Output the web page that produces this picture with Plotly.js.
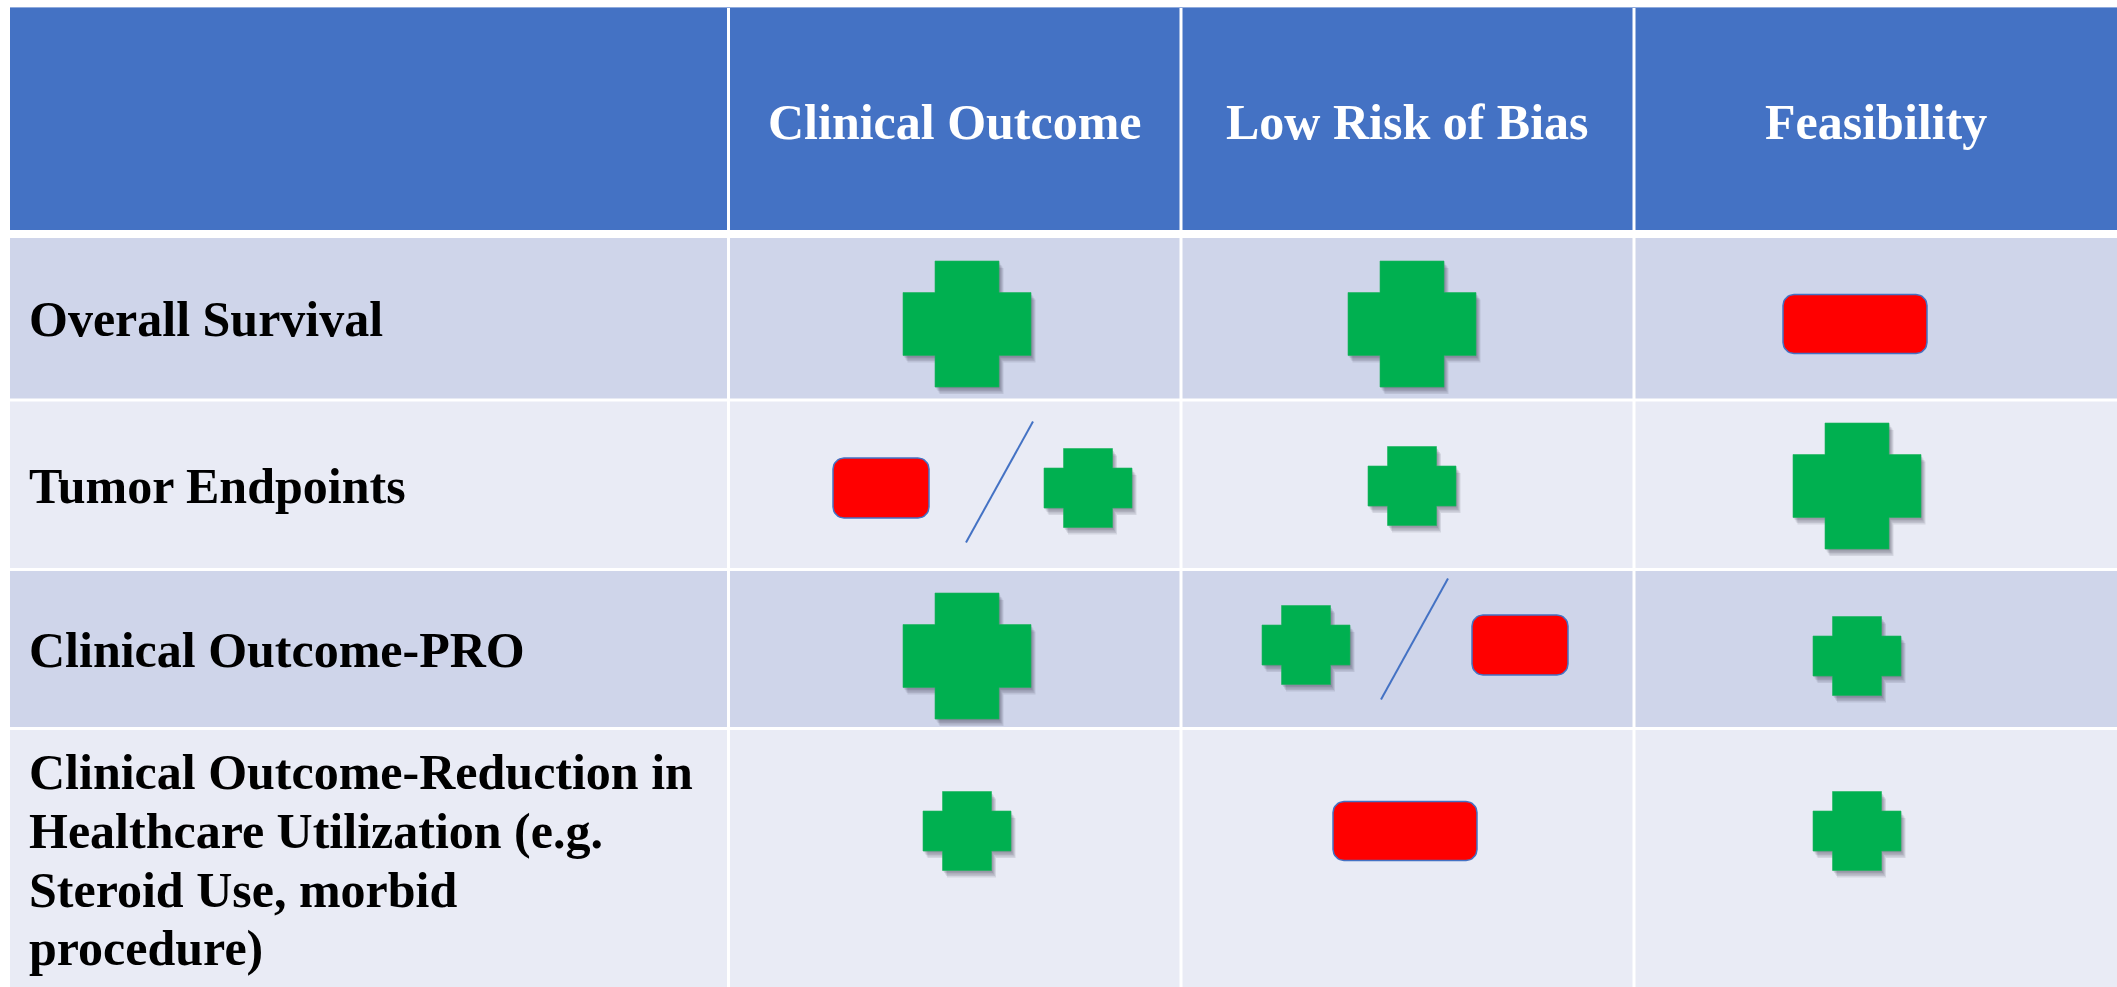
<!DOCTYPE html>
<html><head><meta charset="utf-8">
<script src="https://cdn.plot.ly/plotly-3.0.1.min.js"></script>
<style>html,body{margin:0;padding:0;background:#fff;overflow:hidden}</style>
</head><body><div id="chart" style="width:2117px;height:987px"></div>
<script>
// ---------------- DATA ----------------
const columnHeaders = ["Clinical Outcome", "Low Risk of Bias", "Feasibility"];
const rowLabels = [
  "Overall Survival",
  "Tumor Endpoints",
  "Clinical Outcome-PRO",
  "Clinical Outcome-Reduction in<br>Healthcare Utilization (e.g.<br>Steroid Use, morbid<br>procedure)"
];
// "++" strong favourable (large plus), "+" favourable (plus), "-" unfavourable (minus bar),
// "a/b" mixed rating shown as two marks with a slash
const clinicalOutcome = ["++", "-/+", "++", "+"];
const lowRiskOfBias   = ["++", "+", "+/-", "-"];
const feasibility     = ["-", "++", "+", "+"];
const ratings = [clinicalOutcome, lowRiskOfBias, feasibility];

// ---------------- LAYOUT / STYLE ----------------
const W = 2117, H = 987;
const colEdges = [[10, 727], [730, 1179.5], [1182.5, 1632.5], [1635.5, 2117]];
const headerBand = [7, 230];
const rowBands = [[238, 398.5], [401.5, 568], [571, 727], [730, 987]];
const rowFill = ["#CFD5EA", "#E9EBF5", "#CFD5EA", "#E9EBF5"];
const headerFill = "#4472C4";
const markX = [967, 1412, 1857];
const markY = [324, 486, 656, 831];
const singleBarDX = [0, -7, -2];
const splitDX = [17.5, 1, 0], splitDY = [2, -11, 0];
const splitHalf = [103.5, 107, 105];
const slashDX = [15, 1.5, 0], slashDY = -6;
const slashHalf = [33.5, 60.5];
const bigCross = {w: 128, h: 126, bw: 64, bh: 63};
const smallCross = {w: 88, h: 79, bw: 49, bh: 40};
const barSingle = {w: 144, h: 59}, barSplit = {w: 96, h: 60}, barRadius = 11;
const FONT = "Liberation Serif, 'Times New Roman', Times, serif";
const labelX = 27, headerY = 122, multiTop = 772, lineStep = 58.8;

// ---------------- GEOMETRY HELPERS ----------------
function crossPoly(cx, cy, s, xs, ys) {
  const w = s.w / 2, h = s.h / 2, a = s.bw / 2, b = s.bh / 2;
  const pts = [[-a,-h],[a,-h],[a,-b],[w,-b],[w,b],[a,b],[a,h],[-a,h],[-a,b],[-w,b],[-w,-b],[-a,-b],[-a,-h]];
  pts.forEach(p => { xs.push(cx + p[0]); ys.push(cy + p[1]); });
  xs.push(null); ys.push(null);
}
function roundRect(cx, cy, s, r, xs, ys) {
  const w = s.w / 2, h = s.h / 2;
  const corners = [[w - r, -h + r, -90], [w - r, h - r, 0], [-w + r, h - r, 90], [-w + r, -h + r, 180]];
  corners.forEach(c => {
    for (let k = 0; k <= 8; k++) {
      const ang = (c[2] + k * 90 / 8) * Math.PI / 180;
      xs.push(cx + c[0] + r * Math.cos(ang)); ys.push(cy + c[1] + r * Math.sin(ang));
    }
  });
  xs.push(xs[xs.length - 36]); ys.push(ys[ys.length - 36]);
  xs.push(null); ys.push(null);
}

// ---------------- BUILD ----------------
const shapes = [];
function cell(x0, x1, y0, y1, fill) {
  shapes.push({type: "rect", xref: "x", yref: "y", x0: x0, x1: x1, y0: y0, y1: y1,
    fillcolor: fill, line: {width: 0}, layer: "below"});
}
colEdges.forEach(c => cell(c[0], c[1], headerBand[0], headerBand[1], headerFill));
rowBands.forEach((r, i) => colEdges.forEach(c => cell(c[0], c[1], r[0], r[1], rowFill[i])));
shapes.push({type: "line", xref: "x", yref: "y", x0: colEdges[0][0], x1: W, y0: headerBand[0] + 0.5, y1: headerBand[0] + 0.5,
  line: {color: "#8FAADC", width: 1}, layer: "below"});

const gx = [], gy = [], rx = [], ry = [], sx = [], sy = [];
function placeMark(code, cx, cy, split, c) {
  if (code === "++") crossPoly(cx, cy, bigCross, gx, gy);
  else if (code === "+") crossPoly(cx, cy, smallCross, gx, gy);
  else if (code === "-") roundRect(split ? cx : cx + singleBarDX[c], cy, split ? barSplit : barSingle, barRadius, rx, ry);
}
ratings.forEach((col, c) => {
  col.forEach((val, r) => {
    const parts = val.split("/");
    if (parts.length === 1) {
      placeMark(parts[0], markX[c], markY[r], false, c);
    } else {
      const gcx = markX[c] + splitDX[c], gcy = markY[r] + splitDY[c];
      placeMark(parts[0], gcx - splitHalf[c], gcy, true, c);
      placeMark(parts[1], gcx + splitHalf[c], gcy, true, c);
      const scx = gcx + slashDX[c], scy = gcy + slashDY;
      sx.push(scx - slashHalf[0], scx + slashHalf[0], null);
      sy.push(scy + slashHalf[1], scy - slashHalf[1], null);
    }
  });
});

const traces = [];
const shadowOff = [[0.5, 1], [1.5, 2.5], [2.5, 4], [3.5, 5.5], [4.5, 7]];
shadowOff.forEach(o => {
  traces.push({type: "scatter", mode: "lines", fill: "toself", hoverinfo: "skip", showlegend: false,
    x: gx.map(v => v === null ? null : v + o[0]), y: gy.map(v => v === null ? null : v + o[1]),
    line: {width: 0, color: "rgba(0,0,0,0)"}, fillcolor: "rgba(40,40,55,0.11)"});
});
traces.push({type: "scatter", mode: "lines", fill: "toself", hoverinfo: "skip", showlegend: false,
  x: gx, y: gy, line: {width: 0.6, color: "#1FB35E"}, fillcolor: "#00B050"});
traces.push({type: "scatter", mode: "lines", fill: "toself", hoverinfo: "skip", showlegend: false,
  x: rx, y: ry, line: {width: 1.5, color: "#4472C4"}, fillcolor: "#FF0000"});
traces.push({type: "scatter", mode: "lines", hoverinfo: "skip", showlegend: false,
  x: sx, y: sy, line: {width: 2, color: "#4472C4"}});

const annotations = [];
columnHeaders.forEach((t, i) => {
  const c = colEdges[i + 1];
  annotations.push({x: (c[0] + c[1]) / 2, y: headerY, xref: "x", yref: "y", text: t, showarrow: false,
    xanchor: "center", yanchor: "middle", font: {family: FONT, size: 50, color: "#FFFFFF", weight: "bold"}});
});
rowLabels.forEach((t, i) => {
  const lines = t.split("<br>");
  lines.forEach((ln, k) => {
    const y = lines.length === 1 ? (rowBands[i][0] + rowBands[i][1]) / 2 + 1 : multiTop + k * lineStep;
    annotations.push({x: labelX, y: y, xref: "x", yref: "y", text: ln, showarrow: false,
      xanchor: "left", yanchor: "middle", font: {family: FONT, size: 50, color: "#000000", weight: "bold"}});
  });
});

const layout = {
  width: W, height: H, margin: {l: 0, r: 0, t: 0, b: 0, pad: 0},
  paper_bgcolor: "#FFFFFF", plot_bgcolor: "#FFFFFF",
  xaxis: {range: [0, W], visible: false, fixedrange: true},
  yaxis: {range: [H, 0], visible: false, fixedrange: true},
  shapes: shapes, annotations: annotations, showlegend: false
};
Plotly.newPlot("chart", traces, layout, {staticPlot: true, displayModeBar: false});
</script></body></html>
